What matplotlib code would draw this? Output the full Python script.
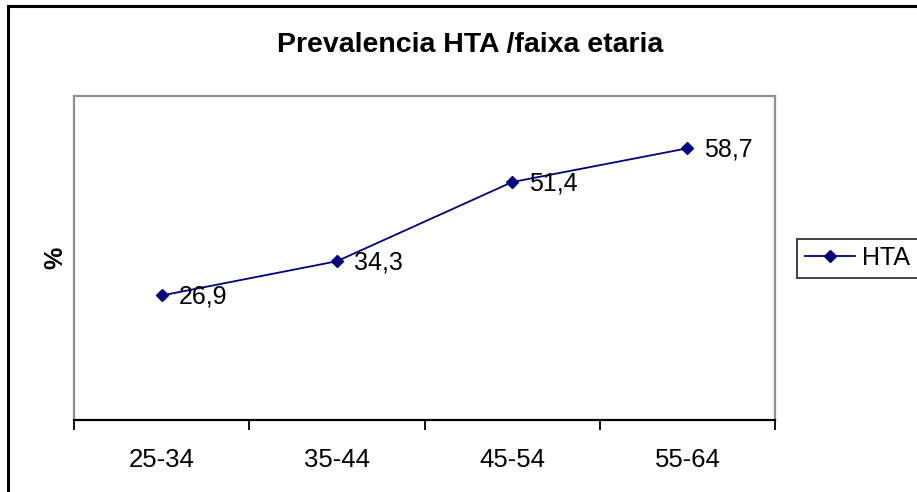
import matplotlib.pyplot as plt
from matplotlib.patches import Rectangle

plt.rcParams['font.family'] = ['Liberation Sans', 'DejaVu Sans']

# data
faixas = ['25-34', '35-44', '45-54', '55-64']
hta = [26.9, 34.3, 51.4, 58.7]
rotulos = ['26,9', '34,3', '51,4', '58,7']

fig = plt.figure(figsize=(9.17, 4.92), dpi=100)
ax = fig.add_axes([74/917, 72/492, 701/917, 324/492])

x = list(range(len(faixas)))
ax.plot(x, hta, color='#000080', marker='D', markersize=6.5, linewidth=1.3, label='HTA')
for xi, yi, lab in zip(x, hta, rotulos):
    ax.annotate(lab, (xi, yi), xytext=(12, -1), textcoords='offset points',
                va='center', ha='left', fontsize=18)

ax.set_xlim(-0.5, 3.5)
ax.set_ylim(0, 70)
ax.set_yticks([])
ax.set_xticks([-0.5, 0.5, 1.5, 2.5, 3.5])
ax.set_xticklabels([])
ax.set_xticks(x, minor=True)
ax.set_xticklabels(faixas, minor=True, fontsize=18.5)
ax.tick_params(axis='x', which='major', length=7, width=1.3, color='black', direction='out')
ax.tick_params(axis='x', which='minor', length=0, pad=20)

for s in ['left', 'top', 'right']:
    ax.spines[s].set_color('#909090')
    ax.spines[s].set_linewidth(1.6)
ax.spines['bottom'].set_color('black')
ax.spines['bottom'].set_linewidth(1.6)

ax.set_ylabel('%', fontsize=18, fontweight='bold', labelpad=5)
fig.text(470/917, 1 - 45/492, 'Prevalencia HTA /faixa etaria', ha='center', va='center',
         fontsize=20.5, fontweight='bold')

leg = ax.legend(loc='center left', bbox_to_anchor=(797/701 - 74/701, 0.5), fontsize=18,
                frameon=True, fancybox=False, edgecolor='black', handlelength=2.0,
                borderpad=0.3, handletextpad=0.3, borderaxespad=0)
leg.get_frame().set_linewidth(1.3)

# outer chart border
fig.patches.append(Rectangle((8/917, -0.05), 1.1, 1 - 6/492 + 0.05, transform=fig.transFigure,
                             fill=False, edgecolor='black', linewidth=2.2, clip_on=False))

fig.savefig('out.png', dpi=100)
